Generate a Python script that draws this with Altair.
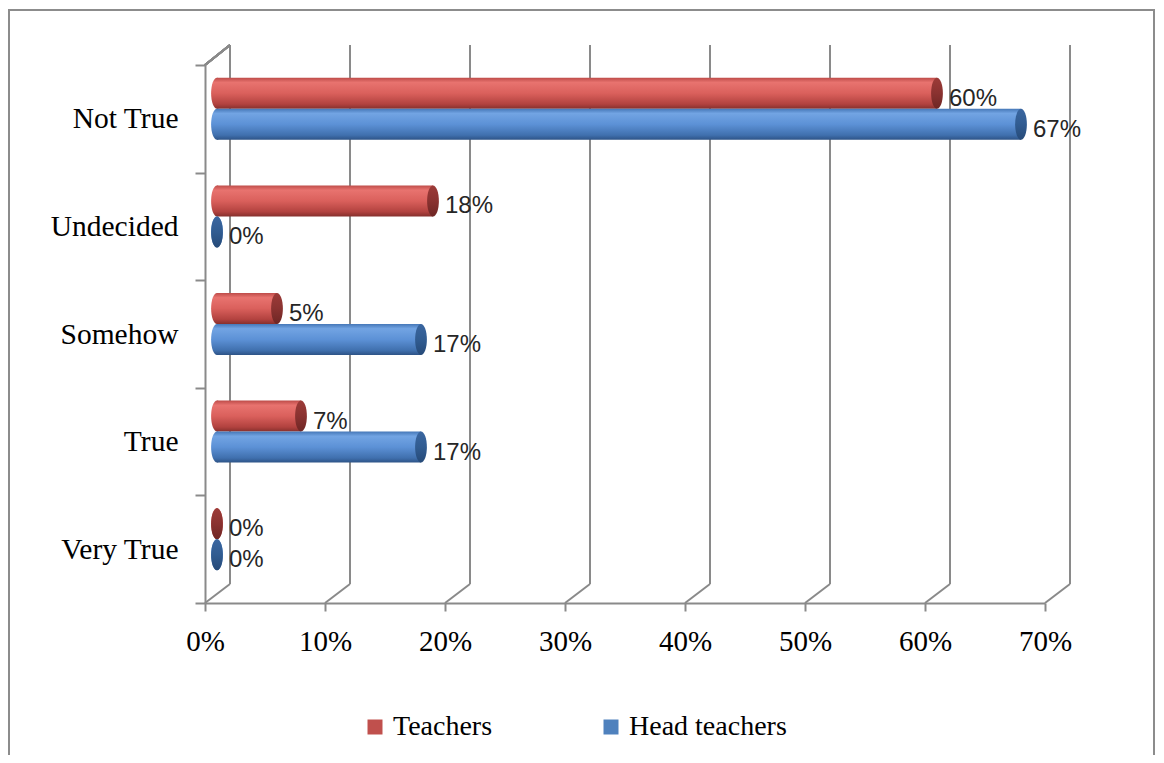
import altair as alt
import pandas as pd

categories = ["Not True", "Undecided", "Somehow", "True", "Very True"]
teachers = [60, 18, 5, 7, 0]
head_teachers = [67, 0, 17, 17, 0]
series_names = ["Teachers", "Head teachers"]
x_ticks = [0, 10, 20, 30, 40, 50, 60, 70]

W, H = 840, 538
DX, DY = 25, 19          # depth of the back plane
BAR_DX = 12              # bars sit a little into the depth
BAR_H = 31
GROUP_SHIFT = -10

RED, BLUE = "#C0504D", "#4F81BD"
GRID = "#8a8a8a"
SERIF = "Liberation Serif"
SANS = "Liberation Sans"

def frame(vals, name):
    d = pd.DataFrame({"category": categories, "value": vals})
    d["series"] = name
    d["label"] = d["value"].astype(str) + "%"
    return d

df_t = frame(teachers, "Teachers")
df_h = frame(head_teachers, "Head teachers")
df_all = pd.concat([df_t, df_h], ignore_index=True)
df_grid = pd.DataFrame({"value": x_ticks})

x_scale = alt.Scale(domain=[0, 70], nice=False, zero=True)
y_scale = alt.Scale(domain=categories, paddingInner=0, paddingOuter=0)

x_axis = alt.Axis(values=x_ticks, labelExpr="datum.value + '%'", labelFont=SERIF,
                  labelFontSize=29, labelColor="#000000", tickSize=8, tickWidth=2,
                  tickColor=GRID, domainColor=GRID, domainWidth=2, grid=False,
                  labelFlush=False, labelPadding=16, title="")
y_axis = alt.Axis(tickBand="extent", tickSize=10, tickWidth=2, tickColor=GRID,
                  domainColor=GRID, domainWidth=2, labelFont=SERIF, labelFontSize=29.5,
                  labelColor="#000000", labelPadding=17, grid=False, title="")

X = alt.X("value:Q", scale=x_scale, axis=x_axis, title="")
Y = alt.Y("category:N", scale=y_scale, axis=y_axis, sort=categories, title="")

ellipse = ("M0,-1 C0.21,-1 0.38,-0.552 0.38,0 C0.38,0.552 0.21,1 0,1 "
           "C-0.21,1 -0.38,0.552 -0.38,0 C-0.38,-0.552 -0.21,-1 0,-1 Z")
cap_size = BAR_H * BAR_H

def grad(stops):
    return alt.Gradient(gradient="linear", x1=0, x2=0, y1=0, y2=1,
                        stops=[alt.GradientStop(offset=o, color=c) for o, c in stops])

red_grad = grad([(0, "#be4c49"), (0.15, "#e8736f"), (0.5, "#da605c"), (0.85, "#b2423f"), (1, "#86302d")])
blue_grad = grad([(0, "#4678b8"), (0.15, "#72a4e3"), (0.5, "#5c91d6"), (0.85, "#4070ae"), (1, "#2d5386")])
red_cap = grad([(0, "#9c3b38"), (0.5, "#8a3230"), (1, "#6e2624")])
blue_cap = grad([(0, "#3a66a0"), (0.5, "#315c91"), (1, "#264a78")])

def series_layers(df, gradient, capcolor, yoff):
    base = alt.Chart(df)
    bar = base.mark_bar(fill=gradient, height=BAR_H, xOffset=BAR_DX, x2Offset=BAR_DX,
                        yOffset=yoff).encode(x=X, x2=alt.datum(0), y=Y)
    left_cap = base.mark_point(shape=ellipse, size=cap_size, filled=True, fill=gradient,
                               strokeWidth=0, opacity=1, xOffset=BAR_DX,
                               yOffset=yoff).encode(
        x=alt.X("zero:Q", scale=x_scale, axis=x_axis, title=""), y=Y).transform_calculate(zero="0")
    right_cap = base.mark_point(shape=ellipse, size=cap_size, filled=True, fill=capcolor,
                                strokeWidth=0, opacity=1, xOffset=BAR_DX,
                                yOffset=yoff).encode(x=X, y=Y)
    text = base.mark_text(align="left", baseline="middle", dx=BAR_DX + 12, dy=yoff + 5.5,
                          font=SANS, fontSize=24, color="#262626").encode(
        x=X, y=Y, text="label:N")
    return [left_cap, bar, right_cap, text]

border = alt.Chart(df_grid).mark_rect(fillOpacity=0, stroke="#8c8c8c", strokeWidth=2).encode(
    x=alt.value(-196), x2=alt.value(949), y=alt.value(-55), y2=alt.value(H + 200))

grid_back = alt.Chart(df_grid).mark_rule(color=GRID, strokeWidth=2, xOffset=DX).encode(
    x=X, y=alt.value(-20), y2=alt.value(H - DY))
grid_diag = alt.Chart(df_grid).mark_rule(color=GRID, strokeWidth=2, x2Offset=DX).encode(
    x=X, x2=alt.X2("value"), y=alt.value(H), y2=alt.value(H - DY))
top_diag = alt.Chart(df_grid).mark_rule(color=GRID, strokeWidth=2).encode(
    x=alt.value(0), x2=alt.value(DX), y=alt.value(0), y2=alt.value(-20))

legend_layer = alt.Chart(df_all).mark_square(opacity=0, size=0).encode(
    x=X, y=Y,
    color=alt.Color("series:N", scale=alt.Scale(domain=series_names, range=[RED, BLUE]),
                    legend=alt.Legend(orient="none", legendX=156, legendY=648,
                                      direction="horizontal", columns=2, columnPadding=104,
                                      symbolType="square", symbolSize=225, symbolOpacity=1,
                                      symbolStrokeWidth=0, labelFont=SERIF, labelFontSize=28,
                                      labelColor="#000000", labelOffset=4, title=""),
                    title=""))

layers = [border, grid_back, grid_diag, top_diag]
layers += series_layers(df_t, red_grad, red_cap, GROUP_SHIFT - BAR_H / 2)
layers += series_layers(df_h, blue_grad, blue_cap, GROUP_SHIFT + BAR_H / 2)
layers.append(legend_layer)

chart = alt.layer(*layers).properties(
    width=W, height=H,
    padding={"left": 197, "top": 57, "right": 111, "bottom": 152},
    autosize=alt.AutoSizeParams(type="none"),
    background="#ffffff",
).configure_view(strokeWidth=0)

chart.save("out.html", embed_options={"renderer": "svg", "actions": False})
